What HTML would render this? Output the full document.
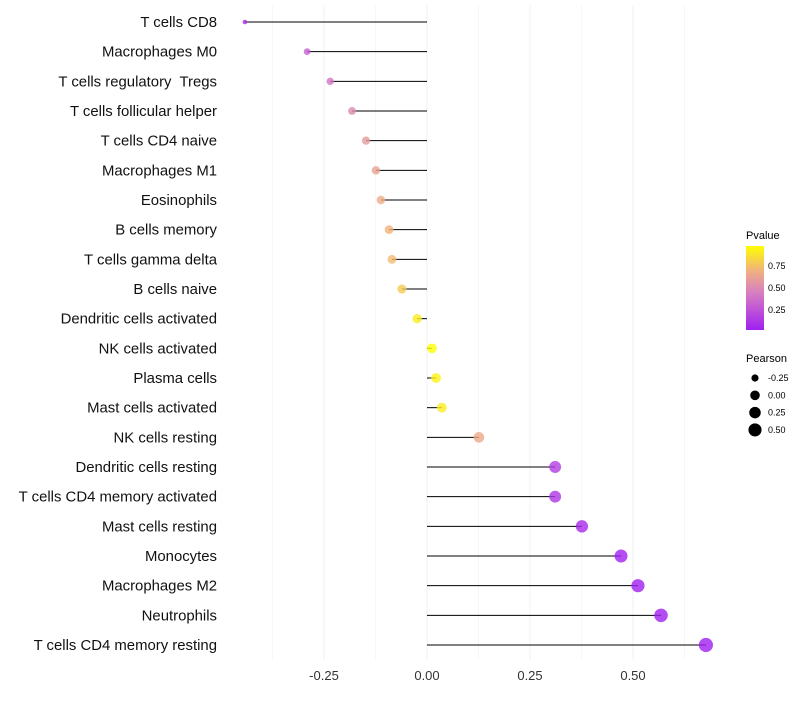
<!DOCTYPE html>
<html><head><meta charset="utf-8"><style>
body{margin:0;background:#fff;}
svg text{font-family:"Liberation Sans",sans-serif;}
</style></head><body>
<svg id="chart" width="800" height="700">
<defs><linearGradient id="pg" x1="0" y1="1" x2="0" y2="0">
<stop offset="0" stop-color="#a020f0"/><stop offset="0.45" stop-color="#d880c0"/><stop offset="0.7" stop-color="#f0b080"/><stop offset="1" stop-color="#ffff00"/>
</linearGradient></defs>
<g id="grid"></g><g id="marks"></g><g id="labels"></g><g id="xaxis"></g>
<g>
<text x="746" y="239" font-size="11">Pvalue</text>
<rect x="746" y="246" width="18" height="84" fill="url(#pg)"/>
<text x="768" y="269" font-size="9">0.75</text><text x="768" y="291" font-size="9">0.50</text><text x="768" y="313" font-size="9">0.25</text>
</g>
<g id="sizeleg">
<text x="746" y="362" font-size="11">Pearson</text>
</g>
</svg>
<script>
const categories=["T cells CD8","Macrophages M0","T cells regulatory  Tregs","T cells follicular helper","T cells CD4 naive","Macrophages M1","Eosinophils","B cells memory","T cells gamma delta","B cells naive","Dendritic cells activated","NK cells activated","Plasma cells","Mast cells activated","NK cells resting","Dendritic cells resting","T cells CD4 memory activated","Mast cells resting","Monocytes","Macrophages M2","Neutrophils","T cells CD4 memory resting"];
const pearson=[-0.442,-0.291,-0.235,-0.182,-0.148,-0.124,-0.112,-0.092,-0.085,-0.061,-0.024,0.012,0.022,0.036,0.126,0.311,0.311,0.376,0.471,0.512,0.568,0.677];
const pvalues=[0.08,0.3,0.4,0.5,0.58,0.62,0.66,0.7,0.72,0.78,0.9,0.97,0.93,0.9,0.65,0.15,0.12,0.07,0.03,0.02,0.01,0.001];
const xTicks=[-0.25,0,0.25,0.5];
const xTickLabels=["-0.25","0.00","0.25","0.50"];
const legendVals=[-0.25,0,0.25,0.5];
const legendLabels=["-0.25","0.00","0.25","0.50"];
const NS="http://www.w3.org/2000/svg";
const X=v=>427+v*412;
const Y=i=>22+i*(623/21);
const R=v=>Math.sqrt(5+(v+0.45)*40);
function col(p){const st=[[0,[160,32,240]],[0.45,[216,128,192]],[0.7,[240,176,128]],[1,[255,255,0]]];
 const t=Math.min(1,Math.max(0,(p-0.02)/0.95));
 for(let k=1;k<st.length;k++){if(t<=st[k][0]){const a=st[k-1],b=st[k],f=(t-a[0])/(b[0]-a[0]);return "rgb("+a[1].map((c,j)=>Math.round(c+(b[1][j]-c)*f)).join(",")+")";}}return "rgb(255,255,0)";}
function mk(tag,at,par){const e=document.createElementNS(NS,tag);for(const k in at)e.setAttribute(k,at[k]);document.getElementById(par).appendChild(e);return e;}
[-0.375,-0.125,0.125,0.375,0.625].forEach(v=>{const l=mk("line",{x1:X(v),x2:X(v),y1:5,y2:660,stroke:"#f7f7f7","stroke-width":1},"grid");

});
xTicks.forEach((v,i)=>{const l=mk("line",{x1:X(v),x2:X(v),y1:5,y2:660,stroke:"#f0f0f0","stroke-width":1},"grid");


const t=mk("text",{x:X(v),y:680,"font-size":13,"text-anchor":"middle",fill:"#333"},"xaxis");t.textContent=xTickLabels[i];

});
categories.forEach((c,i)=>{const y=Y(i);
const t=mk("text",{x:217,y:y+5,"font-size":14.9,"text-anchor":"end",fill:"#111"},"labels");t.textContent=c;
t.setAttribute('xml:space','preserve');t.style.whiteSpace='pre';


const l=mk("line",{x1:X(0),x2:X(pearson[i]),y1:y,y2:y,stroke:"#000","stroke-width":1},"marks");


const d=mk("circle",{cx:X(pearson[i]),cy:y,r:R(pearson[i]),fill:col(pvalues[i]),"fill-opacity":0.8},"marks");

});
legendVals.forEach((v,i)=>{const y=378+i*17.3;
const d=mk("circle",{cx:755,cy:y,r:R(v),fill:"#000"},"sizeleg");


const t=mk("text",{x:768,y:y+3,"font-size":9},"sizeleg");t.textContent=legendLabels[i];

});
</script>
</body></html>
